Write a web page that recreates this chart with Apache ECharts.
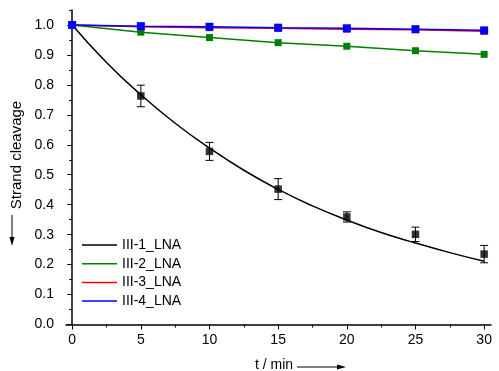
<!DOCTYPE html>
<html>
<head>
<meta charset="utf-8">
<script src="https://cdn.jsdelivr.net/npm/echarts@6/dist/echarts.min.js"></script>
<style>
  html, body { margin: 0; padding: 0; background: #fff; }
  #chart { width: 499px; height: 371px; }
</style>
</head>
<body>
<div id="chart"></div>
<script>
// measured points (t in min)
const times = [0, 5, 10, 15, 20, 25, 30];
const lna1 = [1.0, 0.763, 0.578, 0.452, 0.359, 0.301, 0.235];
const lna1Err = [0, 0.036, 0.030, 0.035, 0.017, 0.024, 0.029];
const lna2 = [1.0, 0.976, 0.958, 0.941, 0.929, 0.914, 0.902];
const lna3 = [1.0, 0.994, 0.991, 0.989, 0.986, 0.984, 0.979];
const lna4 = [1.0, 0.996, 0.994, 0.991, 0.989, 0.986, 0.982];

// fit curve of III-1_LNA
const fitTimes = [0, 2.5, 5, 7.5, 10, 12.5, 15, 17.5, 20, 22.5, 25, 27.5, 30];
const fit1 = [1.0, 0.875, 0.767, 0.672, 0.589, 0.515, 0.451, 0.396, 0.349, 0.307, 0.272, 0.240, 0.211];

const xMajor = [0, 5, 10, 15, 20, 25, 30];
const xMinor = [2.5, 7.5, 12.5, 17.5, 22.5, 27.5];
const yMajor = [0, 0.1, 0.2, 0.3, 0.4, 0.5, 0.6, 0.7, 0.8, 0.9, 1.0];
const yMinor = [0.05, 0.15, 0.25, 0.35, 0.45, 0.55, 0.65, 0.75, 0.85, 0.95, 1.05];

const names = ['III-1_LNA', 'III-2_LNA', 'III-3_LNA', 'III-4_LNA'];
const colors = ['#000000', '#008000', '#ff0000', '#0000ff'];

const font = 'Liberation Sans, Arial, sans-serif';
const pairs = (xs, ys) => xs.map((x, i) => [x, ys[i]]);

const chart = echarts.init(document.getElementById('chart'));

const xAxisBase = {
  type: 'value', min: -0.45, max: 30.5, gridIndex: 0, position: 'bottom',
  splitLine: { show: false }
};
const yAxisBase = {
  type: 'value', min: 0, max: 1.05, gridIndex: 0, position: 'left',
  splitLine: { show: false }
};

chart.setOption({
  animation: false,
  grid: { left: 66, right: 8, top: 10, bottom: 46.5 },
  xAxis: [
    Object.assign({}, xAxisBase, {
      axisLine: { lineStyle: { color: '#000', width: 1.5 } },
      axisTick: { customValues: xMajor, length: 5, lineStyle: { color: '#000', width: 1 } },
      axisLabel: { customValues: xMajor, color: '#000', fontSize: 14, fontFamily: font, margin: 9 }
    }),
    Object.assign({}, xAxisBase, {
      axisLine: { show: false },
      axisTick: { customValues: xMinor, length: 3, lineStyle: { color: '#000', width: 1 } },
      axisLabel: { show: false }
    })
  ],
  yAxis: [
    Object.assign({}, yAxisBase, {
      axisLine: { show: true, lineStyle: { color: '#000', width: 1.5 } },
      axisTick: { show: true, customValues: yMajor, length: 5, lineStyle: { color: '#000', width: 1 } },
      axisLabel: {
        customValues: yMajor, color: '#000', fontSize: 14, fontFamily: font, margin: 12,
        formatter: v => v.toFixed(1)
      }
    }),
    Object.assign({}, yAxisBase, {
      axisLine: { show: false },
      axisTick: { show: true, customValues: yMinor, length: 3, lineStyle: { color: '#000', width: 1 } },
      axisLabel: { show: false }
    })
  ],
  legend: {
    data: names,
    orient: 'vertical',
    left: 77, top: 233,
    icon: 'rect',
    itemWidth: 35, itemHeight: 1.5,
    itemGap: 4.7,
    textStyle: { color: '#000', fontSize: 14, fontFamily: font, lineHeight: 14 }
  },
  graphic: [
    {
      type: 'text', x: 255, y: 365,
      style: { text: 't / min', fill: '#000', font: '14px ' + font, verticalAlign: 'middle' }
    },
    { type: 'line', shape: { x1: 297, y1: 367, x2: 340, y2: 367 }, style: { stroke: '#000', lineWidth: 1 } },
    { type: 'polygon', shape: { points: [[346, 367], [337, 364.5], [337, 369.5]] }, style: { fill: '#000' } },
    {
      type: 'text', x: 17, y: 155, rotation: Math.PI / 2,
      style: { text: 'Strand cleavage', fill: '#000', font: '15px ' + font, align: 'center', verticalAlign: 'middle' }
    },
    { type: 'line', shape: { x1: 12, y1: 215, x2: 12, y2: 239 }, style: { stroke: '#000', lineWidth: 1 } },
    { type: 'polygon', shape: { points: [[12, 246], [9.5, 237], [14.5, 237]] }, style: { fill: '#000' } }
  ],
  series: [
    {
      name: names[0], type: 'line', data: pairs(fitTimes, fit1), smooth: true,
      showSymbol: false, lineStyle: { color: colors[0], width: 1.5 }, itemStyle: { color: colors[0] }, z: 2
    },
    {
      name: 'err1', type: 'custom', z: 3,
      data: times.map((t, i) => [t, lna1[i] - lna1Err[i], lna1[i] + lna1Err[i]]),
      renderItem: (params, api) => {
        if (api.value(2) - api.value(1) === 0) return null;
        const lo = api.coord([api.value(0), api.value(1)]);
        const hi = api.coord([api.value(0), api.value(2)]);
        const w = 4;
        const st = { stroke: '#000', lineWidth: 1 };
        return {
          type: 'group',
          children: [
            { type: 'line', shape: { x1: lo[0], y1: lo[1], x2: hi[0], y2: hi[1] }, style: st },
            { type: 'line', shape: { x1: lo[0] - w, y1: lo[1], x2: lo[0] + w, y2: lo[1] }, style: st },
            { type: 'line', shape: { x1: hi[0] - w, y1: hi[1], x2: hi[0] + w, y2: hi[1] }, style: st }
          ]
        };
      }
    },
    {
      name: 'pts1', type: 'scatter', data: pairs(times, lna1), symbol: 'rect', symbolSize: 7.5,
      itemStyle: { color: colors[0] }, z: 4
    },
    {
      name: names[1], type: 'line', data: pairs(times, lna2), symbol: 'rect', symbolSize: 7,
      showAllSymbol: true, lineStyle: { color: colors[1], width: 1.5 }, itemStyle: { color: colors[1] }, z: 5
    },
    {
      name: names[2], type: 'line', data: pairs(times, lna3), symbol: 'rect', symbolSize: 7,
      showAllSymbol: true, lineStyle: { color: colors[2], width: 1.5 }, itemStyle: { color: colors[2] }, z: 6
    },
    {
      name: names[3], type: 'line', data: pairs(times, lna4), symbol: 'rect', symbolSize: 8,
      showAllSymbol: true, lineStyle: { color: colors[3], width: 1.5 }, itemStyle: { color: colors[3] }, z: 7
    }
  ]
});
</script>
</body>
</html>
